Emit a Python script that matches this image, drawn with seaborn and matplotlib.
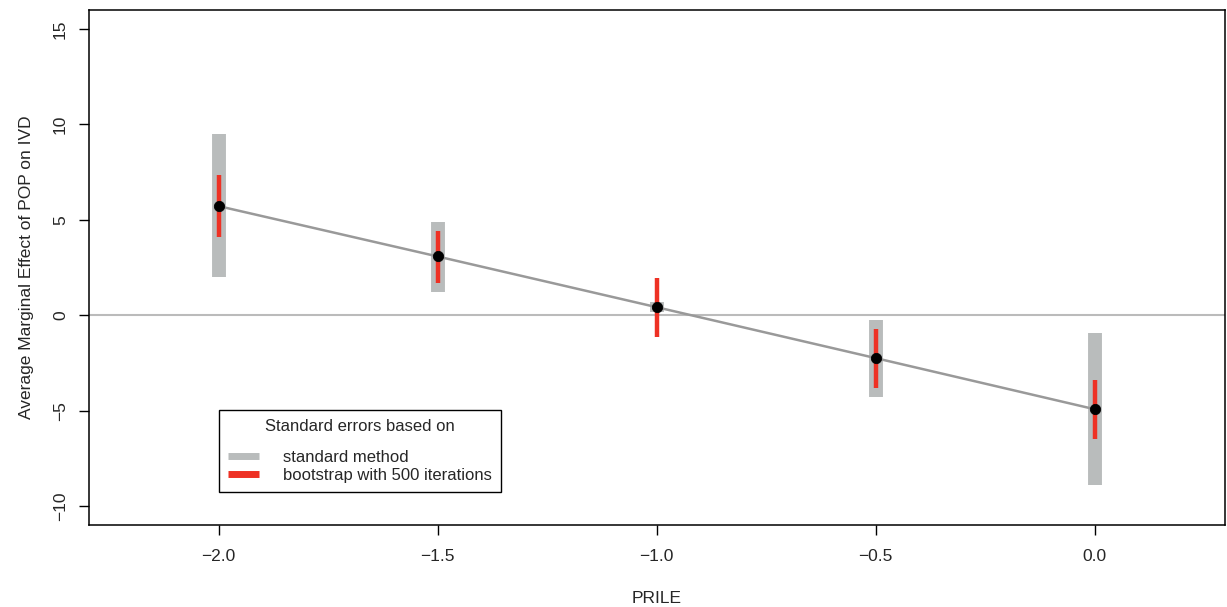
import numpy as np
import pandas as pd
import seaborn as sns
import matplotlib.pyplot as plt

# values
prile = [-2.0, -1.5, -1.0, -0.5, 0.0]
effect = [5.72, 3.08, 0.42, -2.25, -4.93]
std_lo = [2.0, 1.21, 0.16, -4.30, -8.92]
std_hi = [9.5, 4.88, 0.68, -0.26, -0.95]
boot_lo = [4.10, 1.68, -1.15, -3.83, -6.50]
boot_hi = [7.35, 4.40, 1.94, -0.73, -3.41]

df = pd.DataFrame({'PRILE': prile, 'effect': effect,
                   'std_lo': std_lo, 'std_hi': std_hi,
                   'boot_lo': boot_lo, 'boot_hi': boot_hi})

sns.set_style('ticks')
plt.rcParams['font.family'] = ['Liberation Sans', 'DejaVu Sans']

fig = plt.figure(figsize=(12.27, 6.07), dpi=100)
ax = fig.add_axes([0.0725, 0.135, 0.9255, 0.8485])

ax.axhline(0, color='#bbbbbb', lw=1.5, zorder=1)
ax.vlines(df['PRILE'], df['std_lo'], df['std_hi'], color='#b9bcbc', lw=10,
          label='standard method', zorder=2)
ax.vlines(df['PRILE'], df['boot_lo'], df['boot_hi'], color='#ee3124', lw=3.2,
          label='bootstrap with 500 iterations', zorder=3)
sns.lineplot(data=df, x='PRILE', y='effect', color='#999999', lw=1.8,
             ax=ax, zorder=4)
sns.scatterplot(data=df, x='PRILE', y='effect', color='black', s=55,
                edgecolor='black', ax=ax, zorder=5)

ax.set_xlim(-2.296, 0.296)
ax.set_ylim(-11, 16)
ax.set_xticks(prile)
ax.set_xticklabels(['\u22122.0', '\u22121.5', '\u22121.0', '\u22120.5', '0.0'])
ax.set_yticks([-10, -5, 0, 5, 10, 15])
ax.set_yticklabels(['\u221210', '\u22125', '0', '5', '10', '15'], rotation=90, va='center')
ax.tick_params(axis='both', length=7, width=1, labelsize=12.5, pad=8, color='black')
ax.tick_params(axis='x', pad=10)
for s in ax.spines.values():
    s.set_linewidth(1.1)
    s.set_color('black')

ax.set_xlabel('PRILE', fontsize=12.5, labelpad=20)
ax.set_ylabel('Average Marginal Effect of POP on IVD', fontsize=12.5, labelpad=14)

leg = ax.legend(title='Standard errors based on\n', loc='upper left',
                bbox_to_anchor=(0.1144, 0.2233), borderaxespad=0,
                fancybox=False, framealpha=1,
                edgecolor='black', fontsize=12, title_fontsize=12,
                handlelength=1.85, handletextpad=1.45, borderpad=0.55,
                labelspacing=0.2)
leg.get_frame().set_linewidth(1.0)
leg.get_title().set_linespacing(0.75)
for h in leg.legend_handles:
    h.set_linewidth(5)

fig.savefig('out.png', dpi=100)
